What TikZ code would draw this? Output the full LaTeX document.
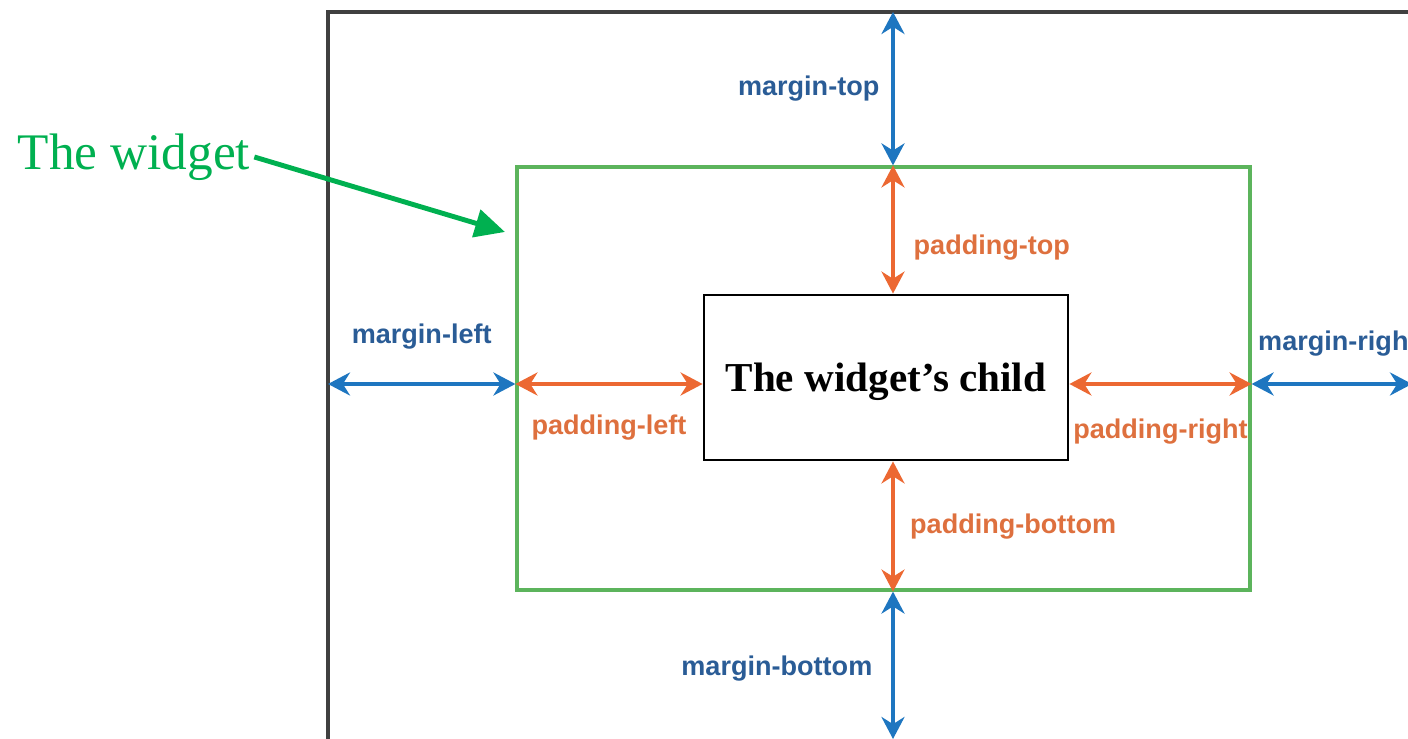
\documentclass[tikz,border=0pt]{standalone}
\usepackage{fontspec}
\setmainfont{Liberation Serif}
\setsansfont{Liberation Sans}
\usepackage{tikz}
\usetikzlibrary{arrows.meta,positioning,calc}
\definecolor{mblue}{RGB}{30,118,192}
\definecolor{mbluetxt}{RGB}{42,92,150}
\definecolor{porange}{RGB}{236,104,50}
\definecolor{porangetxt}{RGB}{222,112,62}
\definecolor{wgreen}{RGB}{92,180,92}
\definecolor{agreen}{RGB}{0,176,80}

\begin{document}
\begin{tikzpicture}[font=\sffamily\bfseries,
  marr/.style={{Stealth[length=2.2mm,width=2.3mm]}-{Stealth[length=2.2mm,width=2.3mm]}, mblue, line width=1.1pt},
  parr/.style={{Stealth[length=2.2mm,width=2.3mm]}-{Stealth[length=2.2mm,width=2.3mm]}, porange, line width=1.1pt},
  mlbl/.style={text=mbluetxt, font=\sffamily\bfseries\fontsize{7.7}{9}\selectfont},
  plbl/.style={text=porangetxt, font=\sffamily\bfseries\fontsize{7.7}{9}\selectfont},
  wbox/.style={draw=wgreen, line width=0.9pt, minimum width=7.33cm, minimum height=4.23cm},
  cbox/.style={draw, line width=0.8pt, fill=white, minimum width=3.64cm, minimum height=1.65cm,
    text height=11pt, text depth=3pt, font=\rmfamily\bfseries\fontsize{11.7}{13}\selectfont}]
\useasboundingbox (0,0) rectangle (14.08,7.39);
\clip (0,0) rectangle (14.08,7.39);
% outer box, runs off the page
\draw[line width=0.9pt, black!75] (3.28,-1) |- (15,7.27);
\node[wbox] (widget) at (8.835,3.605) {};
\node[cbox] (child) at (8.86,3.615) {The widget’s child};
\coordinate (otop) at (8.93,7.27);
\coordinate (obot) at (8.93,0);
\coordinate (oleft) at (3.28,3.55);
\coordinate (oright) at (14.12,3.55);
% vertical
\draw[marr] (otop) -- node[mlbl, left=0pt]{margin-top} (otop |- widget.north);
\draw[parr] (otop |- widget.north) -- node[plbl, right=2pt, yshift=-5pt]{padding-top} (otop |- child.north);
\draw[parr] (obot |- child.south) -- node[plbl, right=1pt]{padding-bottom} (obot |- widget.south);
\draw[marr] (obot |- widget.south) -- node[mlbl, left=2pt, yshift=-1pt]{margin-bottom} (obot);
% horizontal
\draw[marr] (oleft) -- node[mlbl, above=6pt]{margin-left} (oleft -| widget.west);
\draw[parr] (oleft -| widget.west) -- node[plbl, below=5pt]{padding-left} (oleft -| child.west);
\draw[parr] (oright -| child.east) -- node[plbl, below=6pt]{padding-right} (oright -| widget.east);
\draw[marr] (oright -| widget.east) -- node[mlbl, pos=0, above right=4pt and -2pt]{margin-right} (oright);
% annotation
\node[font=\rmfamily\fontsize{14.6}{16}\selectfont, text=agreen, inner sep=1pt] (wlbl) at (1.34,5.82) {The widget};
\coordinate (wtip) at (5.05,5.07);
\draw[-{Triangle[length=3mm,width=2.8mm]}, agreen, line width=1.4pt] (wlbl.east) -- (wtip);
\end{tikzpicture}
\end{document}
